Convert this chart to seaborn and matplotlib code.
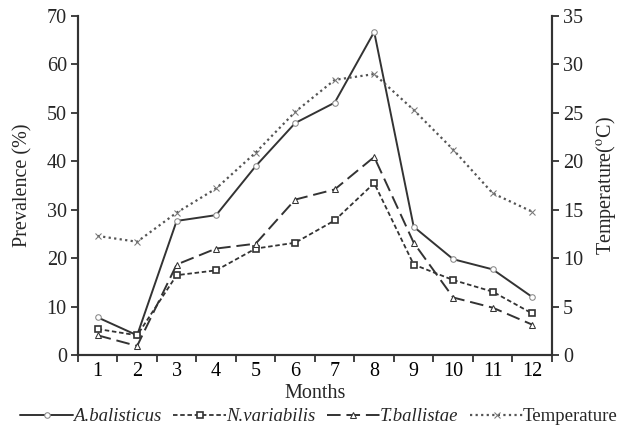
import numpy as np
import pandas as pd
import matplotlib
matplotlib.use("Agg")
import matplotlib.pyplot as plt
import seaborn as sns

# values
months = list(range(1, 13))
a_balisticus = [7.8, 4.1, 27.7, 28.9, 39.0, 47.9, 52.1, 66.7, 26.5, 19.8, 17.7, 12.0]
n_variabilis = [5.4, 4.1, 16.5, 17.5, 22.0, 23.2, 27.8, 35.5, 18.7, 15.5, 13.1, 8.6]
t_ballistae = [4.1, 1.9, 18.7, 22.0, 23.0, 32.1, 34.2, 40.9, 23.2, 11.9, 9.8, 6.3]
temperature = [12.3, 11.7, 14.7, 17.2, 20.9, 25.1, 28.4, 29.0, 25.3, 21.2, 16.7, 14.8]

sns.set_style("ticks")
plt.rcParams['font.family'] = ['Liberation Serif', 'DejaVu Serif']
plt.rcParams['mathtext.fontset'] = 'stix'

fs = 14.5
col = "#333333"
fig = plt.figure(figsize=(6.23, 4.3), dpi=100)
ax = fig.add_axes([0.125, 0.174, 0.761, 0.789])
ax2 = ax.twinx()

sns.lineplot(x=months, y=a_balisticus, ax=ax, color=col, linestyle='-', lw=1.4,
             marker='o', ms=4, mfc='white', mec='#888888', label='A.balisticus', legend=False)
sns.lineplot(x=months, y=n_variabilis, ax=ax, color=col, linestyle=(0, (2.5, 1.5)), lw=1.3,
             marker='s', ms=5, mfc='white', mec=col, mew=1.2, label='N.variabilis', legend=False)
sns.lineplot(x=months, y=t_ballistae, ax=ax, color=col, linestyle=(0, (7, 3)), lw=1.4,
             marker='^', ms=5, mfc='white', mec=col, label='T.ballistae', legend=False)
sns.lineplot(x=months, y=temperature, ax=ax2, color='#555555', linestyle=(0, (1, 1.5)), lw=1.6,
             marker='x', ms=5, mec='#777777', label='Temperature', legend=False)

ax.set_xlim(0.5, 12.5)
ax.set_ylim(0, 70)
ax2.set_ylim(0, 35)
ax.set_yticks(range(0, 71, 10))
ax2.set_yticks(range(0, 36, 5))
ax.set_xticks(np.arange(0.5, 12.6, 1))
ax.set_xticklabels([])
ax.set_xticks(months, minor=True)
ax.set_xticklabels([str(m) for m in months], minor=True)
ax.tick_params(axis='x', which='minor', length=0, labelsize=fs, colors='black', pad=5)
ax.tick_params(axis='x', which='major', length=5, width=1.3, color=col)
ax.tick_params(axis='y', length=5, width=1.3, color=col, labelsize=fs, pad=3)
ax2.tick_params(axis='y', length=5, width=1.3, color=col, labelsize=fs, pad=3)

for a in (ax, ax2):
    a.spines['top'].set_visible(False)
    for s in ('left', 'right', 'bottom'):
        a.spines[s].set_linewidth(1.5)
        a.spines[s].set_color(col)

ax.set_xlabel("Months", fontsize=fs, labelpad=2)
ax.set_ylabel("Prevalence (%)", fontsize=fs, labelpad=10)
ax2.set_ylabel(r"Temperature($^{\rm o}$C)", fontsize=fs, labelpad=8)

h1, l1 = ax.get_legend_handles_labels()
h2, l2 = ax2.get_legend_handles_labels()
leg = fig.legend(h1 + h2, l1 + l2, loc='lower center', bbox_to_anchor=(0.512, -0.015),
                 ncol=4, frameon=False, fontsize=13.5, handlelength=2.8,
                 handletextpad=0.0, columnspacing=0.65, borderaxespad=0.2)
for t in leg.get_texts()[:3]:
    t.set_fontstyle('italic')

fig.savefig("out.png", dpi=100)
